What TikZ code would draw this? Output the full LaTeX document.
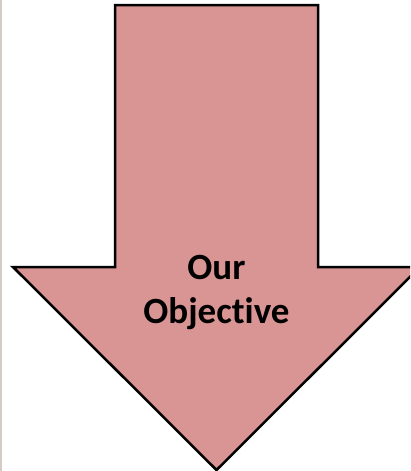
\documentclass[tikz,border=0pt]{standalone}
\usepackage{fontspec}
\setmainfont{Carlito}[Ligatures=NoCommon]
\definecolor{arrowfill}{HTML}{D99594}
\definecolor{edgeline}{HTML}{D3CCC6}
\begin{document}
\begin{tikzpicture}[x=1pt, y=-1pt]
  \useasboundingbox (0,0) rectangle (410,471);
  \clip (0,0) rectangle (410,471);

  % left edge
  \draw[edgeline, line width=1.5pt] (0.75,0) -- (0.75,471);

  % down arrow
  \draw[fill=arrowfill, line width=2.5pt, line join=miter]
    (115,5) -- (318,5) -- (318,267) -- (420,267)
    -- (216.5,470) -- (13,267) -- (115,267) -- cycle;

  \node[font=\bfseries\fontsize{37}{44}\selectfont, align=center,
        text=black] (objective) at (216.5,292) {Our\\Objective};
\end{tikzpicture}
\end{document}
